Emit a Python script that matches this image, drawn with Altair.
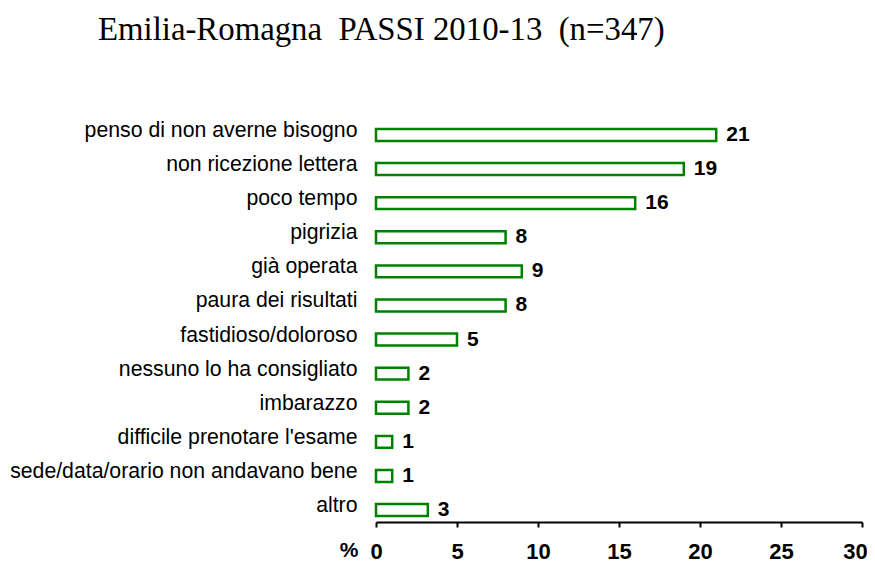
import altair as alt
import pandas as pd

categories = [
    "penso di non averne bisogno",
    "non ricezione lettera",
    "poco tempo",
    "pigrizia",
    "già operata",
    "paura dei risultati",
    "fastidioso/doloroso",
    "nessuno lo ha consigliato",
    "imbarazzo",
    "difficile prenotare l'esame",
    "sede/data/orario non andavano bene",
    "altro",
]
values = [21.0, 19.0, 16.0, 8.0, 9.0, 8.0, 5.0, 2.0, 2.0, 1.0, 1.0, 3.2]
labels = ["21", "19", "16", "8", "9", "8", "5", "2", "2", "1", "1", "3"]
x_ticks = [0, 5, 10, 15, 20, 25, 30]

df = pd.DataFrame({"cat": categories, "val": values, "lab": labels})

y_enc = alt.Y(
    "cat:N",
    sort=categories,
    scale=alt.Scale(paddingInner=0.65, paddingOuter=0.175),
    axis=alt.Axis(
        title=None,
        domain=False,
        ticks=False,
        labelFont="Liberation Sans",
        labelFontSize=21.25,
        labelColor="black",
        labelPadding=19,
        labelOffset=-4,
        labelLimit=600,
    ),
)

x_enc = alt.X(
    "val:Q",
    scale=alt.Scale(domain=[0, 30], nice=False),
    axis=alt.Axis(
        values=x_ticks,
        title="%",
        titleX=-18,
        titleY=28,
        titleAlign="right",
        titleBaseline="middle",
        titleFont="Liberation Sans",
        titleFontSize=21,
        titleFontWeight="bold",
        titleColor="black",
        grid=False,
        domainColor="black",
        domainWidth=2,
        tickColor="black",
        tickWidth=2,
        tickSize=5,
        labelFont="Liberation Sans",
        labelFontSize=22,
        labelFontWeight="bold",
        labelColor="black",
        labelBaseline="middle",
        labelPadding=24,
        labelFlush=False,
        labelOffset={"expr": "datum.value == 30 ? -7 : 0"},
    ),
)

bars = alt.Chart(df).mark_bar(
    fill="white", stroke="#008000", strokeWidth=2.5, cornerRadius=0
).encode(x=x_enc, y=y_enc)

texts = alt.Chart(df).mark_text(
    align="left",
    baseline="middle",
    dx=10,
    dy=0,
    font="Liberation Sans",
    fontSize=21,
    fontWeight="bold",
    color="black",
).encode(x="val:Q", y=alt.Y("cat:N", sort=categories), text="lab:N")

chart = (
    alt.layer(bars, texts)
    .properties(
        width=486,
        height=399,
        autosize=alt.AutoSizeParams(type="none"),
        padding={"left": 368, "top": 115, "right": 5, "bottom": 41},
        title=alt.TitleParams(
            text="Emilia-Romagna\u00a0 PASSI 2010-13\u00a0 (n=347)",
            font="Liberation Serif",
            fontSize=32.8,
            fontWeight="normal",
            color="black",
            anchor="start",
            frame="group",
            dx=-278,
            offset=73,
        ),
    )
    .configure_view(stroke=None)
)

chart.save("out.html", embed_options={"renderer": "svg", "actions": False})
